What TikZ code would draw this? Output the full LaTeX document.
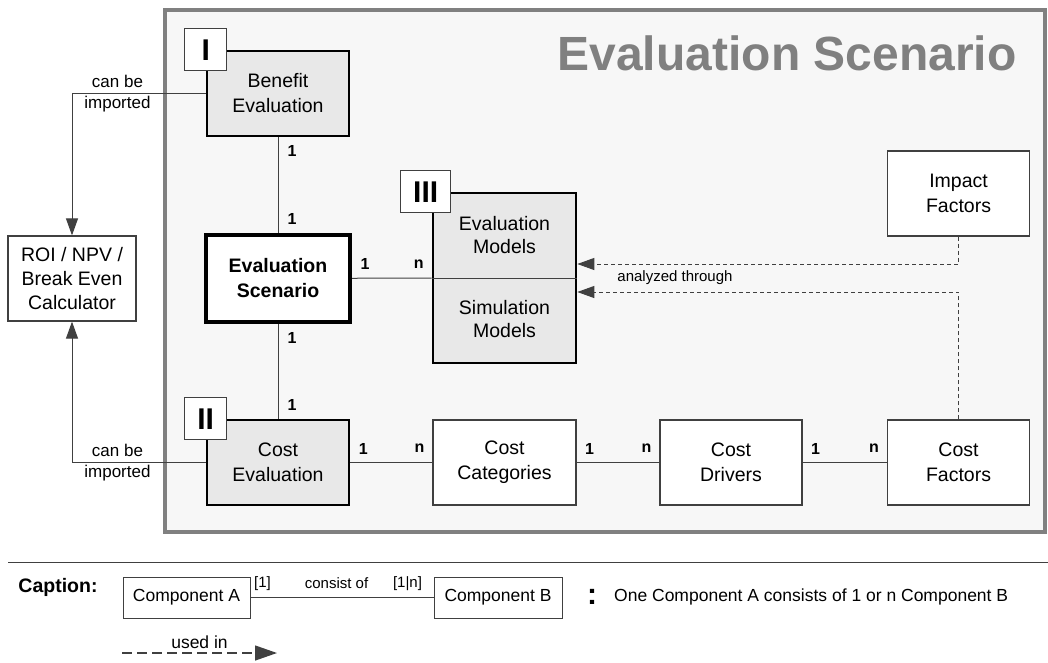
\documentclass[tikz,border=0pt]{standalone}
\usepackage{fontspec}
\setmainfont{Liberation Sans}
\usetikzlibrary{arrows.meta, positioning, calc}
\definecolor{framegray}{HTML}{808080}
\definecolor{panel}{HTML}{F7F7F7}
\definecolor{boxgray}{HTML}{E8E8E8}
\definecolor{linegray}{HTML}{404040}

\begin{document}
\begin{tikzpicture}[x=1pt, y=-1pt,
  box/.style={draw=linegray, fill=white, line width=1.2pt, minimum width=142pt,
              minimum height=85pt, inner sep=0pt, align=center,
              font=\fontsize{19.5}{25}\selectfont},
  keybox/.style={box, draw=black, fill=boxgray, line width=2.6pt},
  mainbox/.style={box, draw=black, line width=4pt,
                  font=\fontsize{19.5}{25}\selectfont\bfseries},
  tag/.style={draw=linegray, fill=white, line width=1pt, minimum width=42pt,
              minimum height=42pt, inner sep=0pt,
              font=\fontsize{30}{30}\selectfont\bfseries},
  part/.style={align=center, inner sep=0pt, font=\fontsize{19.5}{23}\selectfont},
  conn/.style={draw=linegray, line width=1pt},
  arrow/.style={conn, -{Triangle[length=17pt, width=12pt]}},
  dasharrow/.style={arrow, dash pattern=on 4pt off 3pt},
  card/.style={inner sep=0pt, font=\fontsize{16}{16}\selectfont\bfseries},
  hstart/.style={card, pos=0, xshift=13pt, yshift=14pt},
  hend/.style={card, pos=1, xshift=-13pt, yshift=14pt},
  vstart/.style={card, pos=0, xshift=14pt, yshift=-14pt},
  vend/.style={card, pos=1, xshift=14pt, yshift=14pt},
  lbl/.style={inner sep=1pt, font=\fontsize{17}{20}\selectfont},
  small/.style={inner sep=0pt, font=\fontsize{15}{18}\selectfont},
  legend/.style={draw=linegray, fill=white, line width=1pt, minimum width=127pt,
                 minimum height=41pt, inner sep=0pt,
                 font=\fontsize{17.5}{20}\selectfont}
]
  \useasboundingbox (0,0) rectangle (1048,662);

  % scenario panel
  \draw[draw=framegray, fill=panel, line width=4pt] (164.5,9.5) rectangle (1045,532);
  \node[font=\fontsize{48}{48}\selectfont\bfseries, text=framegray, anchor=base,
        inner sep=0pt] (title) at (787,70) {Evaluation Scenario};

  % components
  \node[keybox] (benefit) at (278,93.5) {Benefit\\Evaluation};
  \node[mainbox, minimum width=144pt, minimum height=87pt] (scen) at (278,278.5)
       {Evaluation\\Scenario};
  \node[keybox] (costeval) at (278,462.5) {Cost\\Evaluation};
  \node[keybox, minimum width=143pt, minimum height=170pt] (models) at (504.5,278) {};
  \node[part] (evalmod) at ([yshift=42.5pt]models.center) {Evaluation\\Models};
  \node[part] (simmod) at ([yshift=-41.5pt]models.center) {Simulation\\Models};
  \node[box] (impact) at (958.5,193.5) {Impact\\Factors};
  \node[box, minimum width=143pt] (costcat) at (504.5,462.5) {Cost\\Categories};
  \node[box] (costdrv) at (731,462.5) {Cost\\Drivers};
  \node[box] (costfac) at (958.5,462.5) {Cost\\Factors};
  \node[box, minimum width=128pt, font=\fontsize{19.5}{24}\selectfont] (roi) at (72,278.5)
       {ROI / NPV /\\Break Even\\Calculator};

  % tags
  \node[tag] (tagI) at (benefit.north west) {I};
  \node[tag] (tagII) at (costeval.north west) {II};
  \node[tag, minimum width=50pt] (tagIII) at ([xshift=-6pt]models.north west) {III};

  % relations
  \draw[conn] (benefit) -- node[vstart] (c1) {1} node[vend] (c2) {1} (scen);
  \draw[conn] (scen) -- node[vstart] (c3) {1} node[vend] (c4) {1} (costeval);
  \draw[conn] (scen) -- node[hstart] (c5) {1} node[hend] (c6) {n} (models.west);
  \draw[conn] (models.west) -- (models.east);
  \draw[conn] (costeval) -- node[hstart] (c7) {1} node[hend] (c8) {n} (costcat);
  \draw[conn] (costcat) -- node[hstart] (c9) {1} node[hend] (c10) {n} (costdrv);
  \draw[conn] (costdrv) -- node[hstart] (c11) {1} node[hend] (c12) {n} (costfac);

  % imports
  \draw[arrow] (benefit.west) -| node[lbl, pos=0.33, above=4pt] (imp1) {can be}
       node[lbl, pos=0.33, below=1pt] (imp2) {imported} (roi.north);
  \draw[arrow] (costeval.west) -| node[lbl, pos=0.33, above=4pt] (imp3) {can be}
       node[lbl, pos=0.33, below=1pt] (imp4) {imported} (roi.south);

  % analysis
  \draw[dasharrow] (impact.south) |- ([yshift=14pt]models.east);
  \draw[dasharrow] (costfac.north) |- ([yshift=-14pt]models.east);
  \node[small] (analyzed) at (675,278) {analyzed through};

  % caption
  \draw[draw=linegray, line width=1pt] (8,562) -- (1048,562);
  \node[font=\fontsize{19.5}{20}\selectfont\bfseries, inner sep=0pt] (caption) at (58,587)
       {Caption:};
  \node[legend] (compA) at (186.5,597.5) {Component A};
  \node[legend, minimum width=128pt] (compB) at (498,597.5) {Component B};
  \draw[conn] (compA) -- node[small, pos=0, xshift=12pt, yshift=14pt] (k1) {[1]}
       node[small, pos=0.47, yshift=14pt] (k2) {consist of}
       node[small, pos=1, xshift=-26pt, yshift=14pt] (k3) {[1|n]} (compB);
  \node[font=\fontsize{30}{30}\selectfont\bfseries, inner sep=0pt] (colon) at (592,597) {:};
  \node[inner sep=0pt, font=\fontsize{17.5}{20}\selectfont, anchor=west] (explain)
       at (614,597) {One Component A consists of 1 or n Component B};
  \coordinate (useA) at (122,653);
  \coordinate (useB) at (277,653);
  \draw[conn, line width=1.3pt, dash pattern=on 10pt off 5pt,
        -{Triangle[length=22pt, width=15pt]}] (useA) -- node[inner sep=0pt,
        font=\fontsize{17.5}{20}\selectfont, above=4pt] (usedin) {used in} (useB);
\end{tikzpicture}
\end{document}
